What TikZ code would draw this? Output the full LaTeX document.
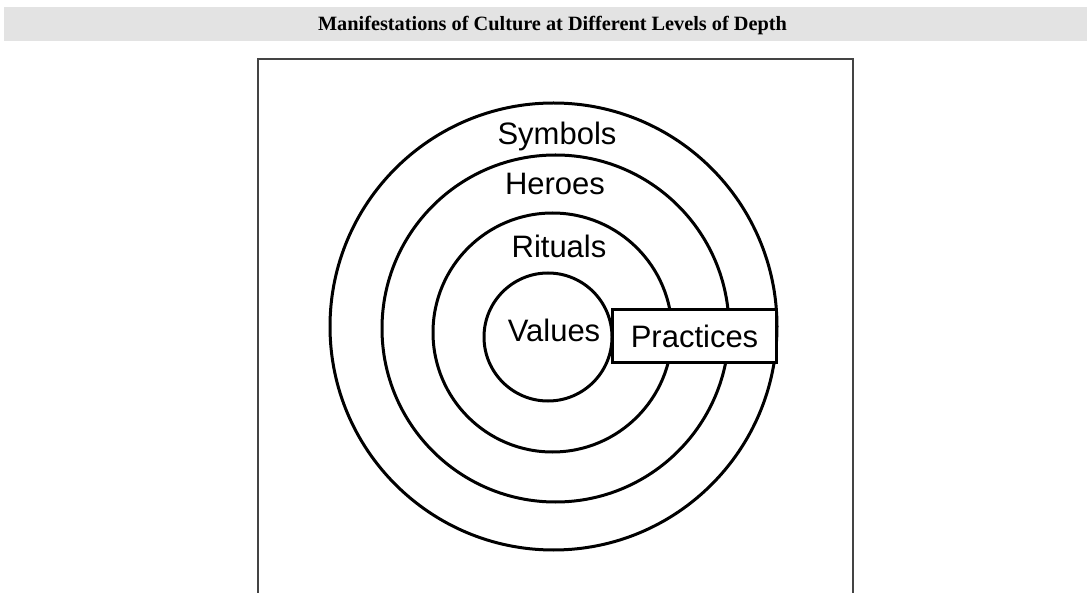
\documentclass[tikz,border=0pt]{standalone}
\usepackage{fontspec}
\setmainfont{Liberation Serif}
\newfontfamily\labelfont{Liberation Sans}
\definecolor{bargray}{HTML}{E3E3E3}
\definecolor{framegray}{HTML}{444444}
\begin{document}
\begin{tikzpicture}[x=1pt,y=-1pt,
  ring/.style={line width=3pt, draw=black},
  lbl/.style={font=\labelfont\fontsize{31}{31}\selectfont, inner sep=0pt, anchor=base},
  pbox/.style={draw=black, line width=3pt, fill=white, minimum width=164pt, minimum height=53pt, inner sep=0pt, font=\labelfont\fontsize{31}{31}\selectfont}]
\useasboundingbox (0,0) rectangle (1087,593);
% title bar
\fill[bargray] (4,7) rectangle (1087,41);
\node[font=\bfseries\fontsize{20.3}{20.3}\selectfont, anchor=base, inner sep=0pt] (title) at (552.5,31) {Manifestations of Culture at Different Levels of Depth};
% frame
\draw[framegray, line width=2pt] (258,593) -- (258,59) -- (853,59) -- (853,593);
% rings
\draw[ring] (553.5,326.5) circle[radius=223.5];
\draw[ring] (555.5,328.5) circle[radius=173.5];
\draw[ring] (552.5,332.5) circle[radius=119.5];
\draw[ring] (548,337) circle[radius=64];
% labels
\node[lbl] (symbols) at (557,145) {Symbols};
\node[lbl] (heroes) at (555,195) {Heroes};
\node[lbl] (rituals) at (559,258) {Rituals};
\node[lbl] (values) at (554,342) {Values};
\node[pbox] (practices) at (694.5,336) {Practices};
\end{tikzpicture}
\end{document}
